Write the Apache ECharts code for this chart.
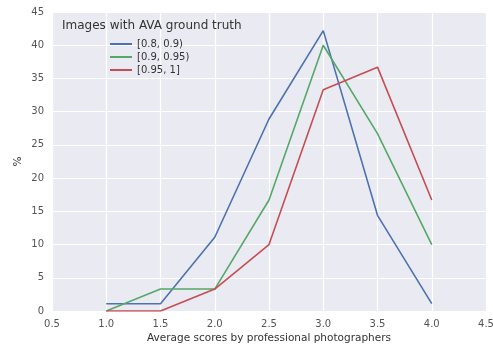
<!DOCTYPE html>
<html><head><meta charset="utf-8">
<script src="https://cdn.jsdelivr.net/npm/echarts@6/dist/echarts.min.js"></script>
<style>html,body{margin:0;padding:0;background:#fff}#c{width:493px;height:345px}</style>
</head><body><div id="c"></div>
<script>
var xValues = [1.0, 1.5, 2.0, 2.5, 3.0, 3.5, 4.0];
var seriesNames = ['[0.8, 0.9)', '[0.9, 0.95)', '[0.95, 1]'];
var s1 = [1.1, 1.1, 11.1, 28.9, 42.2, 14.4, 1.1];
var s2 = [0, 3.3, 3.3, 16.7, 40.0, 26.7, 10.0];
var s3 = [0, 0, 3.3, 10.0, 33.3, 36.7, 16.7];
var colors = ['#4C72B0', '#55A868', '#C44E52'];

function pairs(v){ return xValues.map(function(x,i){return [x, v[i]];}); }
var chart = echarts.init(document.getElementById('c'));
var font = 'DejaVu Sans';
chart.setOption({
  animation: false,
  backgroundColor: '#fff',
  title: {text: 'Images with AVA ground truth', left: 57, top: 15,
    textStyle: {fontFamily: font, fontSize: 12, fontWeight: 'normal', color: '#333'}},
  legend: {orient: 'vertical', left: 105, top: 34, itemWidth: 22, itemHeight: 2, itemGap: 3,
    icon: 'rect', data: seriesNames,
    textStyle: {fontFamily: font, fontSize: 10, color: '#333', padding: [0,0,0,0]}},
  grid: {left: 52, right: 7, top: 12, bottom: 34, backgroundColor: '#EAEAF2', show: true, borderWidth: 0,
    containLabel: false, outerBoundsMode: 'none'},
  xAxis: {type: 'value', min: 0.5, max: 4.5, interval: 0.5,
    name: 'Average scores by professional photographers', nameLocation: 'middle', nameGap: 22,
    nameMoveOverlap: false,
    nameTextStyle: {fontFamily: font, fontSize: 10.5, color: '#333'},
    axisLine: {show: false}, axisTick: {show: false},
    axisLabel: {fontFamily: font, fontSize: 10, color: '#555', margin: 8, formatter: function(v){return v.toFixed(1);}},
    splitLine: {lineStyle: {color: '#fff', width: 1.2}}},
  yAxis: {type: 'value', min: 0, max: 45, interval: 5,
    name: '%', nameLocation: 'middle', nameGap: 28, nameRotate: 90, nameMoveOverlap: false,
    nameTextStyle: {fontFamily: font, fontSize: 10.5, color: '#333'},
    axisLine: {show: false}, axisTick: {show: false},
    axisLabel: {fontFamily: font, fontSize: 10, color: '#555', margin: 8},
    splitLine: {lineStyle: {color: '#fff', width: 1.2}}},
  series: [s1, s2, s3].map(function(v, i){
    return {name: seriesNames[i], type: 'line', data: pairs(v), showSymbol: false,
      lineStyle: {color: colors[i], width: 1.6}, itemStyle: {color: colors[i]}};
  })
});
</script></body></html>
